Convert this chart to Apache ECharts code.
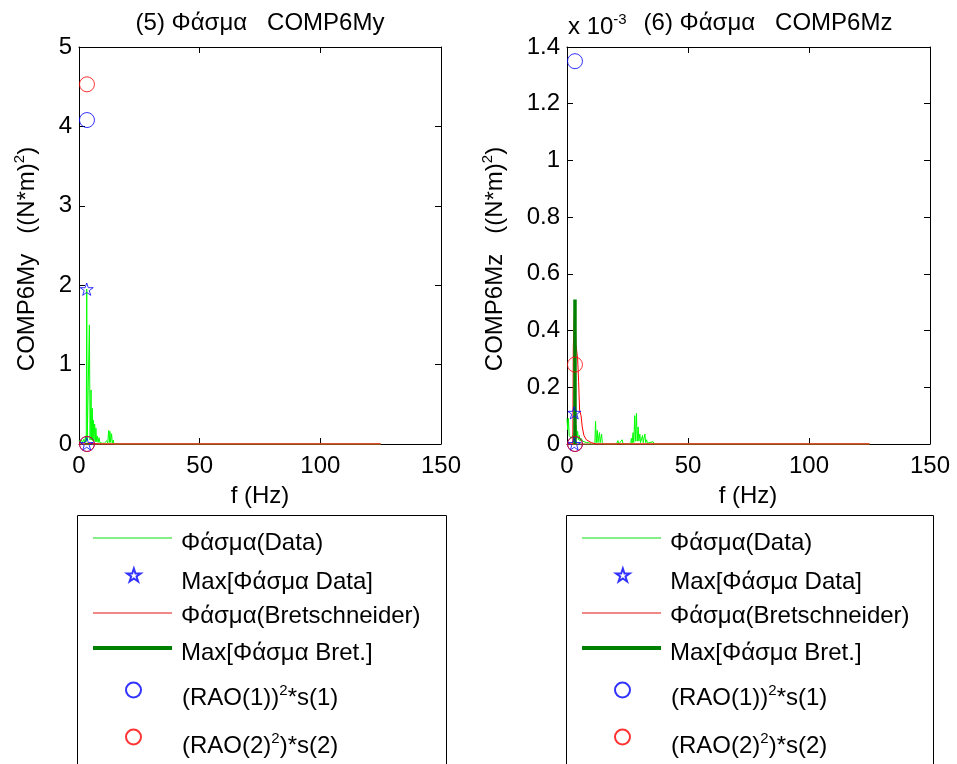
<!DOCTYPE html>
<html>
<head>
<meta charset="utf-8">
<script src="https://cdn.jsdelivr.net/npm/echarts@6/dist/echarts.min.js"></script>
<style>html,body{margin:0;padding:0;background:#fff;}#c{width:957px;height:764px;}</style>
</head>
<body>
<div id="c"></div>
<script>
// ---------- DATA ----------
const xTicks = [0, 50, 100, 150];
// Left chart (5) COMP6My, units (N*m)^2
const leftDataF = [0, 0.5, 1.0, 1.5, 2.0, 2.4, 2.7, 3.0, 3.2, 3.4, 3.8, 4.3, 4.6, 5.0, 5.2, 5.5, 5.7, 5.9, 6.2, 6.5, 6.8, 7.0, 7.3, 7.6, 7.9, 8.3, 8.6, 9.0, 9.5, 10.0, 10.5, 11.0, 11.5, 11.9, 12.3, 12.6, 12.8, 13.1, 13.5, 13.8, 14.2, 14.5, 15, 125];
const leftDataS = [0.05, 0.02, 0.05, 0.02, 0.06, 0.02, 0.1, 0.03, 1.95, 0.05, 0.05, 1.5, 0.05, 0.68, 0.05, 0.45, 0.04, 0.3, 0.04, 0.25, 0.03, 0.2, 0.03, 0.1, 0.02, 0.08, 0.02, 0.04, 0.01, 0.03, 0.01, 0.02, 0.04, 0.01, 0.17, 0.02, 0.16, 0.02, 0.13, 0.01, 0.05, 0.0, 0, 0];
const leftBretF = [0, 2.4, 3.3, 5, 10, 125];
const leftBretS = [0, 0, 0.01, 0.005, 0, 0];
const leftMaxBretF = [3.3, 3.3];
const leftMaxBretS = [0, 0.01];
const leftStarF = [3.2, 3.2];
const leftStarS = [1.95, 0];
const leftRao1F = [3.3, 3.3];
const leftRao1S = [4.08, 0];
const leftRao2F = [3.3, 3.3];
const leftRao2S = [4.53, 0];
const baseF = [0, 125];
const baseS = [0, 0];

// Right chart (6) COMP6Mz, units 1e-3 (N*m)^2
const rightDataF = [0, 0.3, 0.6, 0.9, 1.3, 1.8, 2.3, 2.8, 3.3, 3.7, 4.0, 4.4, 4.7, 5.1, 5.4, 5.8, 6.5, 7.2, 8.0, 9, 10, 11.5, 11.8, 12.1, 12.5, 12.8, 13.4, 13.7, 14.3, 14.6, 15, 15.5, 20.5, 21, 21.4, 22.8, 23.2, 26.3, 26.6, 26.9, 27.3, 27.6, 28.0, 28.3, 28.7, 29.0, 29.4, 29.7, 30.1, 30.4, 31.2, 31.5, 32.2, 32.5, 32.9, 33.2, 34, 35.6, 36, 125];
const rightDataS = [0.09, 0.05, 0.09, 0.03, 0.03, 0.02, 0.03, 0.02, 0.05, 0.065, 0.02, 0.045, 0.015, 0.03, 0.01, 0.02, 0.01, 0.015, 0.005, 0.005, 0.0, 0.0, 0.081, 0.005, 0.048, 0.005, 0.04, 0.005, 0.035, 0.003, 0.01, 0, 0, 0.012, 0, 0.015, 0, 0, 0.02, 0.003, 0.04, 0.005, 0.1, 0.01, 0.108, 0.01, 0.06, 0.01, 0.035, 0.005, 0.03, 0.005, 0.035, 0.005, 0.015, 0.003, 0.008, 0.008, 0, 0];
const rightBretF = [0, 2.4, 2.6, 3.0, 3.2, 3.6, 3.7, 4.2, 4.4, 4.8, 5.2, 5.8, 6.3, 7.0, 8.0, 10.0, 12.0, 125];
const rightBretS = [0, 0, 0.34, 0.34, 0.50, 0.50, 0.35, 0.35, 0.30, 0.22, 0.12, 0.10, 0.06, 0.03, 0.015, 0.005, 0, 0];
const rightMaxBretF = [3.3, 3.3];
const rightMaxBretS = [0, 0.51];
const rightStarF = [3.0, 3.0];
const rightStarS = [0.11, 0];
const rightRao1F = [3.3, 3.3];
const rightRao1S = [1.35, 0];
const rightRao2F = [3.3, 3.3];
const rightRao2S = [0.28, 0];

const legendNames = ['Φάσμα(Data)', 'Max[Φάσμα Data]', 'Φάσμα(Bretschneider)', 'Max[Φάσμα Bret.]', '(RAO(1))^2*s(1)', '(RAO(2)^2)*s(2)'];

// ---------- STYLE ----------
const FONT = '"Liberation Sans", Arial, sans-serif';
const FS = 24;
const STAR = 'path://M50,0 L61.8,35.3 L98.9,35.3 L68.9,57.1 L80.3,92.7 L50,70.6 L19.7,92.7 L31.1,57.1 L1.1,35.3 L38.2,35.3 Z';
const zip = (a, b) => a.map((v, i) => [v, b[i]]);
const supRich = { sup: { fontSize: 15, fontFamily: FONT, fill: '#000', color: '#000', verticalAlign: 'top', lineHeight: 16 },
                  sup3: { fontSize: 15, fontFamily: FONT, fill: '#000', color: '#000', verticalAlign: 'top', lineHeight: 4 } };

const chart = echarts.init(document.getElementById('c'), null, { renderer: 'canvas' });

const grids = [
  { left: 79, right: 957 - 441, top: 47, bottom: 764 - 444 },
  { left: 567, right: 957 - 930, top: 47, bottom: 764 - 444 }
];

const axLine = { onZero: false, lineStyle: { color: '#000', width: 1 } };
const axTick = { inside: true, length: 6, lineStyle: { color: '#000', width: 1 } };
const xAxis = [], yAxis = [];
[0, 1].forEach(gi => {
  xAxis.push({ type: 'value', gridIndex: gi, min: xTicks[0], max: xTicks[xTicks.length - 1], interval: 50, position: 'bottom',
    axisLine: axLine, axisTick: axTick, splitLine: { show: false },
    axisLabel: { color: '#000', fontSize: FS, fontFamily: FONT, margin: 10, showMinLabel: true, showMaxLabel: true } });
  xAxis.push({ type: 'value', gridIndex: gi, min: 0, max: 150, interval: 50, position: 'top',
    axisLine: axLine, axisTick: axTick, splitLine: { show: false }, axisLabel: { show: false } });
  const ymax = gi === 0 ? 5 : 1.4, yint = gi === 0 ? 1 : 0.2;
  yAxis.push({ type: 'value', gridIndex: gi, min: 0, max: ymax, interval: yint, position: 'left',
    axisLine: axLine, axisTick: axTick, splitLine: { show: false },
    axisLabel: { color: '#000', fontSize: FS, fontFamily: FONT, margin: 7, showMinLabel: true, showMaxLabel: true,
      formatter: v => String(+v.toFixed(1)) } });
  yAxis.push({ type: 'value', gridIndex: gi, min: 0, max: ymax, interval: yint, position: 'right',
    axisLine: axLine, axisTick: axTick, splitLine: { show: false }, axisLabel: { show: false } });
});

function seriesFor(gi, d) {
  const ax = { xAxisIndex: gi * 2, yAxisIndex: gi * 2 };
  const hollow = c => ({ color: 'rgba(0,0,0,0)', borderColor: c, borderWidth: 1 });
  return [
    Object.assign({ name: legendNames[0], type: 'line', data: zip(d.dataF, d.dataS), symbol: 'none', lineStyle: { color: '#00ff00', width: 1 }, itemStyle: { color: '#00ff00' }, z: 2 }, ax),
    Object.assign({ name: '_base', type: 'line', data: zip(baseF, baseS), symbol: 'none', lineStyle: { color: '#c8864b', width: 1.6 }, itemStyle: { color: '#c8864b' }, z: 2 }, ax),
    Object.assign({ name: legendNames[2], type: 'line', data: zip(d.bretF, d.bretS), symbol: 'none', lineStyle: { color: '#ff0000', width: 1 }, itemStyle: { color: '#ff0000' }, z: 3 }, ax),
    Object.assign({ name: legendNames[3], type: 'line', data: zip(d.maxBretF, d.maxBretS), symbol: 'none', lineStyle: { color: '#008000', width: 3.5 }, itemStyle: { color: '#008000' }, z: 3 }, ax),
    Object.assign({ name: legendNames[1], type: 'scatter', data: zip(d.starF, d.starS), symbol: STAR, symbolSize: 13, symbolKeepAspect: true, itemStyle: hollow('#0000ff'), clip: false, z: 4 }, ax),
    Object.assign({ name: legendNames[4], type: 'scatter', data: zip(d.rao1F, d.rao1S), symbol: 'circle', symbolSize: 15, itemStyle: hollow('#0000ff'), clip: false, z: 4 }, ax),
    Object.assign({ name: legendNames[5], type: 'scatter', data: zip(d.rao2F, d.rao2S), symbol: 'circle', symbolSize: 15, itemStyle: hollow('#ff0000'), clip: false, z: 4 }, ax)
  ];
}

const series = seriesFor(0, { dataF: leftDataF, dataS: leftDataS, bretF: leftBretF, bretS: leftBretS, maxBretF: leftMaxBretF, maxBretS: leftMaxBretS, starF: leftStarF, starS: leftStarS, rao1F: leftRao1F, rao1S: leftRao1S, rao2F: leftRao2F, rao2S: leftRao2S })
  .concat(seriesFor(1, { dataF: rightDataF, dataS: rightDataS, bretF: rightBretF, bretS: rightBretS, maxBretF: rightMaxBretF, maxBretS: rightMaxBretS, starF: rightStarF, starS: rightStarS, rao1F: rightRao1F, rao1S: rightRao1S, rao2F: rightRao2F, rao2S: rightRao2S }));

// Legends: one per row for exact placement
const LH = 30;
const iconCenters = [538, 575, 613, 648, 690, 737];
const textPadTop = [10, 14, 6, 10, 16, 18];
const rowIcon = [
  { icon: 'rect', h: 2, color: '#86ee86' },
  null,
  { icon: 'rect', h: 2, color: '#f08888' },
  { icon: 'rect', h: 4, color: '#008000' },
  null,
  null
];
const rowMarkSize = [15, 13, 15, 15, 15, 15];
const legendLineLefts = [93, 582];
const legendMarkCenters = [132.5, 621.5];
const legend = [];
[0, 1].forEach(k => {
  legendNames.forEach((nm, i) => {
    const ri = rowIcon[i];
    const pt = textPadTop[i];
    const ms = rowMarkSize[i];
    const l = {
      data: [nm], left: ri ? legendLineLefts[k] : legendMarkCenters[k] - ms / 2, top: iconCenters[i] - (LH + pt) / 2,
      orient: 'vertical', padding: 0, itemWidth: 79, itemHeight: ri ? ri.h : ms, selectedMode: false,
      formatter: n => n.replace(/\^(\d)/, '{sup|$1}'),
      textStyle: { fontSize: FS, fontFamily: FONT, color: '#000', lineHeight: LH, padding: [pt, 0, 0, ri ? 4 : 4 - (15 - ms) / 2], rich: supRich }
    };
    if (ri) { l.icon = ri.icon; l.itemStyle = { color: ri.color, borderWidth: 0 }; }
    legend.push(l);
  });
});

const txt = (x, y, text, extra) => ({ type: 'text', x, y, silent: true, z: 100,
  style: Object.assign({ text, fontSize: FS, fontFamily: FONT, fill: '#000', align: 'center', verticalAlign: 'middle', lineHeight: LH, rich: supRich }, extra || {}) });

const graphic = [
  txt(260, 23, '(5) Φάσμα   COMP6My'),
  txt(768, 23, '(6) Φάσμα   COMP6Mz'),
  txt(568, 27, 'x 10{sup3|-3}', { align: 'left' }),
  txt(260, 496, 'f (Hz)'),
  txt(748, 496, 'f (Hz)'),
  Object.assign(txt(27, 259, 'COMP6My   ((N*m){sup|2})'), { rotation: Math.PI / 2 }),
  Object.assign(txt(495, 259, 'COMP6Mz   ((N*m){sup|2})'), { rotation: Math.PI / 2 }),
  { type: 'rect', shape: { x: 77.5, y: 515.5, width: 369, height: 260 }, style: { fill: 'none', stroke: '#000', lineWidth: 1 }, silent: true, z: 0 },
  { type: 'rect', shape: { x: 566.5, y: 515.5, width: 367, height: 260 }, style: { fill: 'none', stroke: '#000', lineWidth: 1 }, silent: true, z: 0 }
];

chart.setOption({
  animation: false,
  backgroundColor: '#fff',
  grid: grids,
  xAxis, yAxis, series, legend, graphic
});
</script>
</body>
</html>
